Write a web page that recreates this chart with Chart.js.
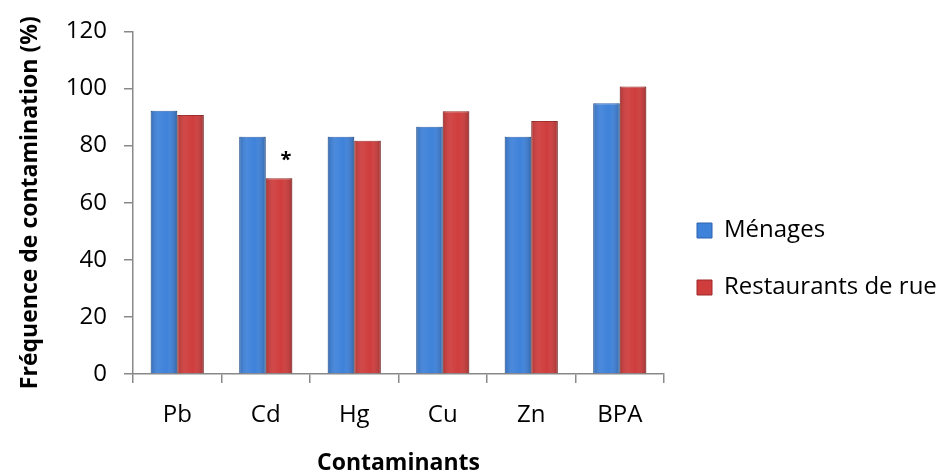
<!DOCTYPE html>
<html>
<head>
<meta charset="utf-8">
<script src="https://cdn.jsdelivr.net/npm/chart.js@4.4.1/dist/chart.umd.min.js"></script>
<style>
  html, body { margin: 0; background: #fff; }
  #wrap { width: 942px; height: 475px; }
</style>
</head>
<body>
<div id="wrap"><canvas id="chart"></canvas></div>
<script>
const categories = ['Pb', 'Cd', 'Hg', 'Cu', 'Zn', 'BPA'];
const menages = [92.2, 83.1, 83.1, 86.6, 83.1, 94.8];
const restaurants = [90.7, 68.6, 81.7, 92.0, 88.6, 100.7];
const restaurantMarks = ['', '*', '', '', '', ''];
const yTicks = [0, 20, 40, 60, 80, 100, 120];

Chart.defaults.font.family = '"Open Sans", sans-serif';
Chart.defaults.font.size = 24;
Chart.defaults.color = '#000';

// soft shading so the bars look a bit rounded like the original
const shade = {
  id: 'shade',
  afterDatasetsDraw(chart) {
    const ctx = chart.ctx;
    chart.data.datasets.forEach((ds, di) => {
      chart.getDatasetMeta(di).data.forEach(bar => {
        const { x, y, base, width } = bar.getProps(['x', 'y', 'base', 'width'], true);
        const g = ctx.createLinearGradient(x - width / 2, 0, x + width / 2, 0);
        g.addColorStop(0, 'rgba(0,0,0,0.16)');
        g.addColorStop(0.3, 'rgba(255,255,255,0.06)');
        g.addColorStop(0.6, 'rgba(255,255,255,0)');
        g.addColorStop(1, 'rgba(0,0,0,0.22)');
        ctx.save();
        ctx.fillStyle = g;
        ctx.fillRect(x - width / 2, y, width, base - y);
        ctx.restore();
      });
    });
  }
};

// significance mark above a bar
const marks = {
  id: 'marks',
  afterDatasetsDraw(chart) {
    const ctx = chart.ctx;
    ctx.save();
    ctx.font = 'bold 20px "Open Sans"';
    ctx.fillStyle = '#000';
    ctx.textAlign = 'center';
    ctx.textBaseline = 'middle';
    chart.getDatasetMeta(1).data.forEach((bar, i) => {
      if (restaurantMarks[i]) ctx.fillText(restaurantMarks[i], bar.x + 7, bar.y - 18);
    });
    ctx.restore();
  }
};

new Chart(document.getElementById('chart'), {
  type: 'bar',
  data: {
    labels: categories,
    datasets: [
      { label: 'Ménages', data: menages, backgroundColor: '#3F82DA', borderColor: '#2D63AE', borderWidth: 1 },
      { label: 'Restaurants de rue', data: restaurants, backgroundColor: '#CF3D3D', borderColor: '#9E2A2A', borderWidth: 1 }
    ]
  },
  options: {
    responsive: true,
    maintainAspectRatio: false,
    animation: false,
    layout: { padding: { top: 27, left: 8, right: 0, bottom: 0 } },
    datasets: { bar: { categoryPercentage: 0.6, barPercentage: 1 } },
    plugins: {
      tooltip: { enabled: false },
      legend: {
        position: 'right',
        align: 'center',
        maxWidth: 278,
        title: { display: true, text: '', padding: 2, font: { size: 10 } },
        labels: { boxWidth: 15, boxHeight: 15, padding: 33, color: '#000', font: { size: 24 } }
      }
    },
    scales: {
      x: {
        afterFit: s => { s.height = 101; },
        grid: { display: true, drawOnChartArea: false, offset: true, tickLength: 9, color: '#898989', lineWidth: 1.5 },
        border: { color: '#898989', width: 1.5 },
        ticks: { padding: 18, color: '#000', font: { size: 24 } },
        title: { display: true, text: 'Contaminants', color: '#000', font: { size: 23, weight: 'bold', lineHeight: 1 }, padding: 0 }
      },
      y: {
        min: yTicks[0],
        max: yTicks[yTicks.length - 1],
        afterFit: s => { s.width = 125; },
        afterBuildTicks: s => { s.ticks = yTicks.map(v => ({ value: v })); },
        grid: { display: true, drawOnChartArea: false, tickLength: 9, color: '#898989', lineWidth: 1.5 },
        border: { color: '#898989', width: 1.5 },
        ticks: { padding: 17, color: '#000', font: { size: 24 } },
        title: { display: true, text: 'Fréquence de contamination (%)', color: '#000', font: { size: 23, weight: 'bold', lineHeight: 1 }, padding: { top: 11, bottom: 0 } }
      }
    }
  },
  plugins: [shade, marks]
});
</script>
</body>
</html>
